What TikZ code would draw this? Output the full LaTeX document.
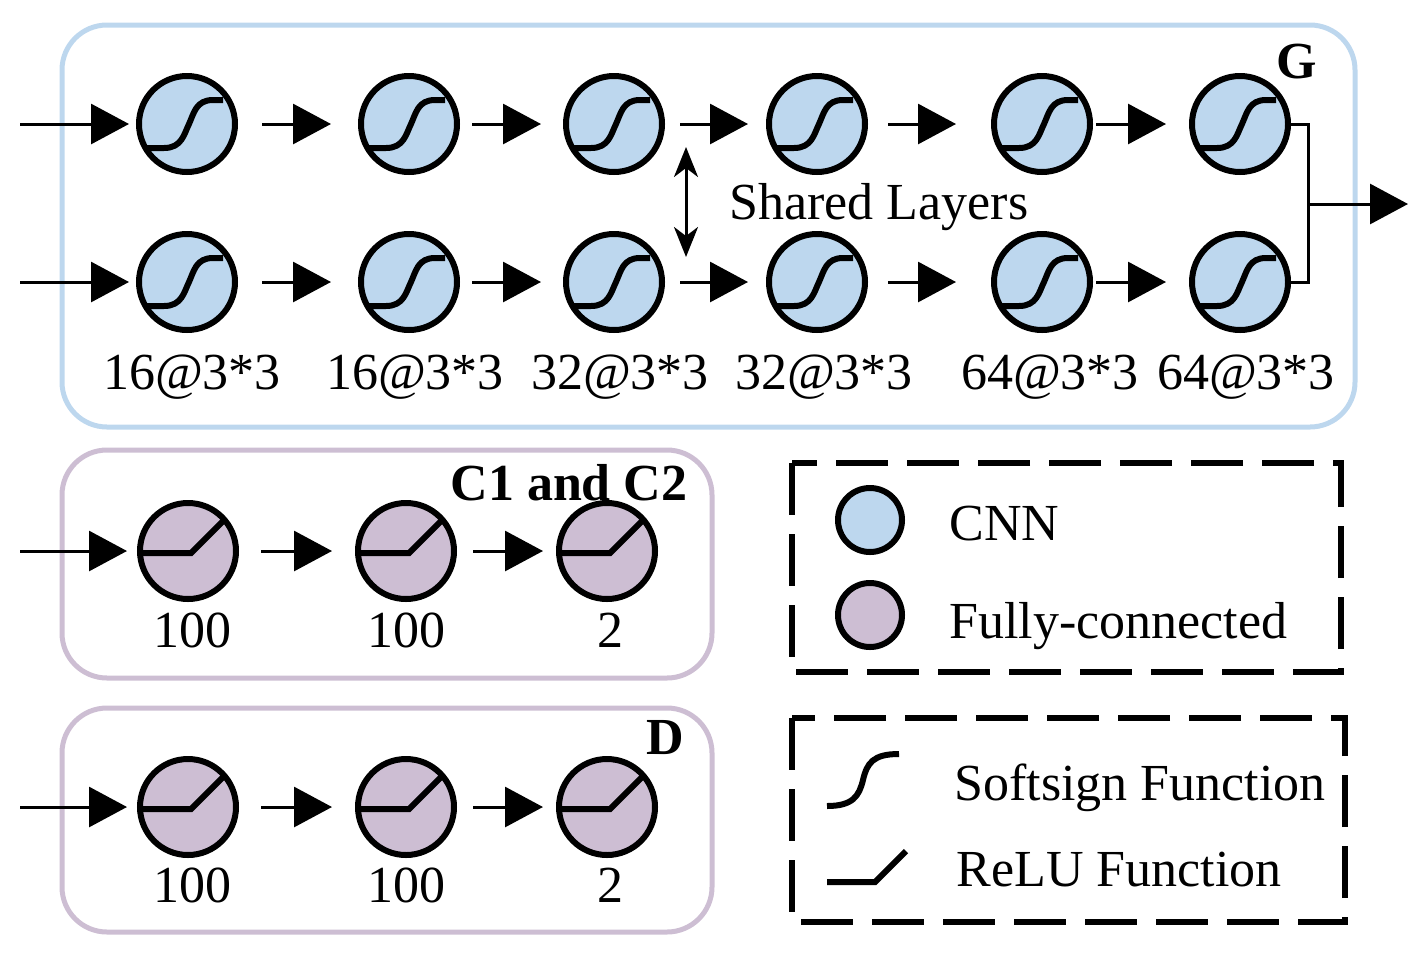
\documentclass[tikz,border=0pt]{standalone}
\usepackage{fontspec}
\setmainfont{Liberation Serif}
\usepackage{tikz}
\usetikzlibrary{arrows.meta,positioning,calc}
\definecolor{cnnblue}{RGB}{189,215,238}
\definecolor{fcpurple}{RGB}{205,190,211}

\begin{document}
\begin{tikzpicture}[x=1pt, y=-1pt, on grid, font=\fontsize{52}{62}\selectfont,
    cnn/.style={circle, draw, line width=6pt, fill=cnnblue, minimum size=96pt, inner sep=0pt,
      path picture={\draw[line width=6pt, shift={(path picture bounding box.center)}]
        (-50,24) -- (-23,24) .. controls (-5,24) and (-3,10) .. (2,0)
        .. controls (7,-11) and (9,-24) .. (26,-24) -- (36,-24);}},
    fc/.style={circle, draw, line width=6pt, fill=fcpurple, minimum size=96pt, inner sep=0pt,
      path picture={\draw[line width=6pt, shift={(path picture bounding box.center)}]
        (-50,2) -- (3,2) -- (50,-45);}},
    key/.style={circle, draw, line width=6pt, minimum size=64pt, inner sep=0pt},
    flow/.style={line width=3pt, -{Triangle[length=38pt, width=40pt]}},
    group/.style={line width=5pt, rounded corners=45pt},
    legend/.style={line width=6pt, dash pattern=on 52pt off 19pt},
    fn/.style={line width=6pt}]
  \useasboundingbox (0,0) rectangle (1415,959);

  % boxes
  \draw[group, cnnblue] (62,25) rectangle (1355,427);
  \draw[group, fcpurple] (62,450) rectangle (712,678);
  \draw[group, fcpurple] (62,708) rectangle (712,932);
  \draw[legend] (792,463) rectangle (1341,672);
  \draw[legend] (792,718) rectangle (1345,922);

  % G
  \node[cnn] (t1) at (187,124) {};
  \node[cnn, right=222pt of t1] (t2) {};
  \node[cnn, right=205pt of t2] (t3) {};
  \node[cnn, right=203pt of t3] (t4) {};
  \node[cnn, right=225pt of t4] (t5) {};
  \node[cnn, right=198pt of t5] (t6) {};
  \foreach \i in {1,...,6}
    \node[cnn, below=158pt of t\i] (b\i) {};
  \node[below=95pt of b1, xshift=5pt] (l1) {16@3*3};
  \node[below=95pt of b2, xshift=6pt] (l2) {16@3*3};
  \node[below=95pt of b3, xshift=6pt] (l3) {32@3*3};
  \node[below=95pt of b4, xshift=7pt] (l4) {32@3*3};
  \node[below=95pt of b5, xshift=8pt] (l5) {64@3*3};
  \node[below=95pt of b6, xshift=6pt] (l6) {64@3*3};
  \node (gname) at (1297,62) {\textbf{G}};
  \node (shared) at (879,207) {Shared Layers};

  \coordinate (tin) at (20,124);
  \coordinate (bin) at (20,282);
  \draw[flow, shorten >=7pt] (tin) -- (t1);
  \draw[flow, shorten >=7pt] (bin) -- (b1);
  \foreach \a/\b/\s/\e in {1/2/24pt/27pt, 2/3/12pt/22pt, 3/4/15pt/18pt, 4/5/20pt/35pt, 5/6/3pt/23pt} {
    \draw[flow, shorten <=\s, shorten >=\e] (t\a) -- (t\b);
    \draw[flow, shorten <=\s, shorten >=\e] (b\a) -- (b\b);
  }
  \coordinate (join) at (1308,204);
  \coordinate (gout) at (1408,204);
  \draw[line width=3pt] (t6.east) -| (join) |- (b6.east);
  \draw[flow] (join) -- (gout);
  \coordinate (sa) at (686,147);
  \coordinate (sb) at (686,257);
  \draw[line width=3pt, {Stealth[length=30pt, width=24pt, inset=9pt]}-{Stealth[length=30pt, width=24pt, inset=9pt]}] (sa) -- (sb);

  % C1 and C2
  \node[fc] (c1) at (188,551) {};
  \node[fc, right=218pt of c1] (c2) {};
  \node[fc, right=201pt of c2] (c3) {};
  \node[below=79pt of c1, xshift=4pt] (m1) {100};
  \node[below=79pt of c2] (m2) {100};
  \node[below=79pt of c3, xshift=3pt] (m3) {2};
  \node (cname) at (569,483) {\textbf{C1 and C2}};
  \coordinate (cin) at (20,551);
  \draw[flow, shorten >=10pt] (cin) -- (c1);
  \draw[flow, shorten <=22pt, shorten >=23pt] (c1) -- (c2);
  \draw[flow, shorten <=16pt, shorten >=13pt] (c2) -- (c3);

  % D
  \node[fc] (d1) at (188,807) {};
  \node[fc, right=218pt of d1] (d2) {};
  \node[fc, right=201pt of d2] (d3) {};
  \node[below=78pt of d1, xshift=4pt] (n1) {100};
  \node[below=78pt of d2] (n2) {100};
  \node[below=78pt of d3, xshift=3pt] (n3) {2};
  \node (dname) at (665,738) {\textbf{D}};
  \coordinate (din) at (20,807);
  \draw[flow, shorten >=10pt] (din) -- (d1);
  \draw[flow, shorten <=22pt, shorten >=23pt] (d1) -- (d2);
  \draw[flow, shorten <=16pt, shorten >=13pt] (d2) -- (d3);

  % legend
  \node[key, fill=cnnblue] (kcnn) at (870,520) {};
  \node[key, fill=fcpurple] (kfc) at (870,615) {};
  \node[anchor=base west] (tcnn) at (946,540) {CNN};
  \node[anchor=base west] (tfc) at (946,638) {Fully-connected};
  \draw[fn] (827,806) .. controls (853,806) and (859,796) .. (863,780)
    .. controls (867,763) and (873,754) .. (899,754);
  \draw[fn] (827,882) -- (875,882) -- (906,851);
  \node[anchor=base west] (tsoft) at (951,800) {Softsign Function};
  \node[anchor=base west] (trelu) at (953,886) {ReLU Function};
\end{tikzpicture}
\end{document}
